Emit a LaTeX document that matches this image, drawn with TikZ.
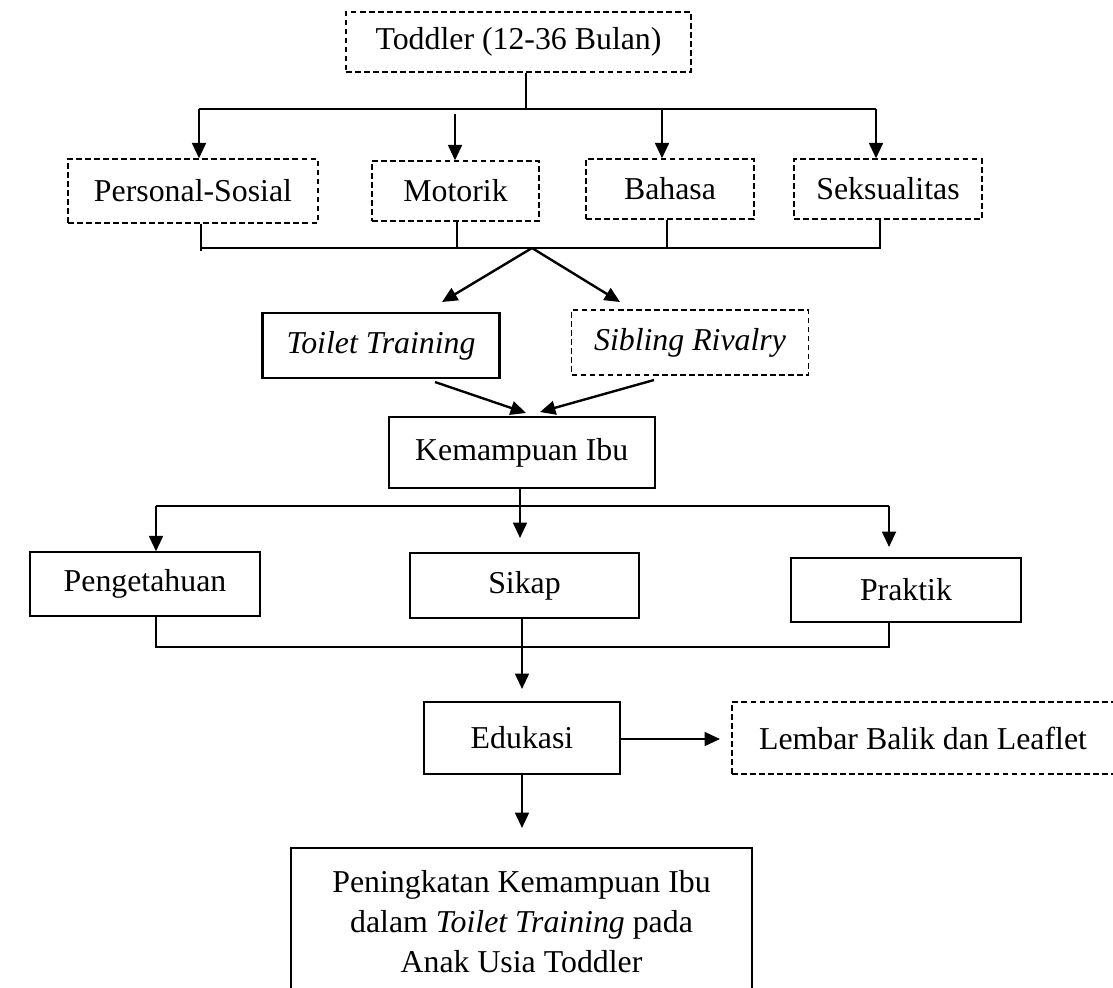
\documentclass[tikz,border=0pt]{standalone}
\usepackage{fontspec}
\setmainfont{Liberation Serif}
\usetikzlibrary{arrows.meta}
\begin{document}
\begin{tikzpicture}[x=0.377pt,y=-0.377pt,
  wh/.style 2 args={minimum width=#1*0.377pt, minimum height=#2*0.377pt},
  box/.style={draw, line width=0.5pt, inner sep=0pt, font=\fontsize{12pt}{15pt}\selectfont},
  dbox/.style={box, dash pattern=on 2.2pt off 1.2pt},
  itbox/.style={font=\fontsize{12pt}{15pt}\selectfont\itshape},
  line/.style={line width=0.5pt},
  arr/.style={line width=0.9pt, -{Triangle[length=5.8pt,width=5.2pt]}},
]
\useasboundingbox (0,0) rectangle (1113,987);
\clip (0,0) rectangle (1113,987);

% nodes
\node[dbox, wh={345}{60}] (toddler) at (518.5,42) {Toddler (12-36 Bulan)};
\node[dbox, wh={250}{64}] (ps) at (193,191) {Personal-Sosial};
\node[dbox, wh={167}{60}] (mot) at (455.5,191) {Motorik};
\node[dbox, wh={168}{60}] (bah) at (670,189) {Bahasa};
\node[dbox, wh={188}{60}] (sek) at (888,189) {Seksualitas};
\node[box, itbox, line width=0.9pt, wh={237}{65}] (tt) at (381,345.5) {Toilet Training};
\node[dbox, itbox, wh={237}{65}] (sr) at (690,342.5) {Sibling Rivalry};
\node[box, line width=0.7pt, wh={266}{71}] (ki) at (521.7,452.5) {Kemampuan Ibu};
\node[box, wh={230}{64}] (pen) at (145,584) {Pengetahuan};
\node[box, wh={229}{65}] (sik) at (524.5,585.5) {Sikap};
\node[box, wh={230}{64}] (pra) at (906,590) {Praktik};
\node[box, wh={196}{72}] (edu) at (522,738) {Edukasi};
\node[dbox, wh={382}{72}] (lem) at (923,738) {Lembar Balik dan Leaflet};
\node[box, wh={461}{147}, align=center] (fin) at (521.5,921.5)
  {Peningkatan Kemampuan Ibu\\dalam \textit{Toilet Training} pada\\Anak Usia Toddler};

% top bus
\coordinate (t1) at (526,109);
\coordinate (bL) at (199,109);
\coordinate (bR) at (876,109);
\coordinate (m1) at (455,114);
\coordinate (ba1) at (662,109);
\draw[line] (toddler.south -| t1) -- (t1);
\draw[line] (bL) -- (bR);
\draw[arr] (bL) -- (ps.north -| bL);
\draw[arr] (m1) -- (mot.north -| m1);
\draw[arr] (ba1) -- (bah.north -| ba1);
\draw[arr] (bR) -- (sek.north -| bR);

% second bus
\coordinate (cL) at (201,248);
\coordinate (cLt) at (201,251);
\coordinate (c2) at (457,248);
\coordinate (c3) at (667,248);
\coordinate (cR) at (880,248);
\draw[line] (ps.south -| cL) -- (cLt);
\draw[line] (cL) -- (cR) -- (sek.south -| cR);
\draw[line] (mot.south -| c2) -- (c2);
\draw[line] (bah.south -| c3) -- (c3);

% split to toilet training / sibling rivalry
\coordinate (apex) at (532,248);
\coordinate (ttT) at (442,302);
\coordinate (srT) at (620,302);
\draw[arr] (apex) -- (ttT);
\draw[arr] (apex) -- (srT);

% to kemampuan ibu
\coordinate (ttS) at (435,382);
\coordinate (kiA) at (526,413);
\coordinate (srS) at (654,380);
\coordinate (kiB) at (540,412);
\draw[arr] (ttS) -- (kiA);
\draw[arr] (srS) -- (kiB);

% kemampuan ibu to components
\coordinate (k1) at (520,538);
\coordinate (dL) at (156,506);
\coordinate (dR) at (889,506);
\draw[arr] (ki.south -| k1) -- (k1);
\draw[line] (dL) -- (dR);
\draw[arr] (dL) -- (pen.north -| dL);
\coordinate (pT) at (889,547);
\draw[arr] (dR) -- (pT);

% components to edukasi
\coordinate (eL) at (156,647);
\coordinate (eR) at (889,647);
\coordinate (eT) at (522,689);
\draw[line] (pen.south -| eL) -- (eL) -- (eR) -- (pra.south -| eR);
\draw[arr] (sik.south -| eT) -- (eT);

% edukasi to leaflet
\coordinate (lT) at (720,739);
\draw[arr] (edu.east |- lT) -- (lT);

% edukasi to final
\coordinate (fT) at (522,828);
\draw[arr] (edu.south -| fT) -- (fT);
\end{tikzpicture}
\end{document}
